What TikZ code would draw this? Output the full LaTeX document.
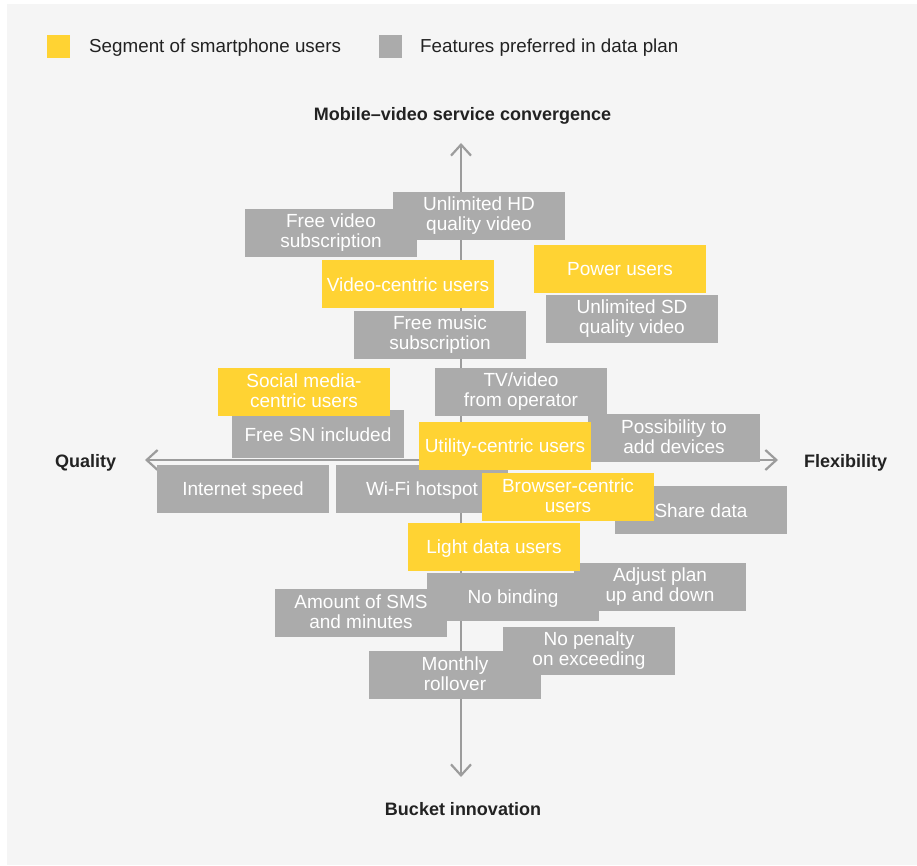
\documentclass[tikz,border=0pt]{standalone}
\usepackage{fontspec}
\setmainfont{Liberation Sans}
\usetikzlibrary{arrows.meta}
\definecolor{bgc}{HTML}{F5F5F5}
\definecolor{boxgray}{HTML}{ABABAB}
\definecolor{segyel}{HTML}{FFD333}
\definecolor{axisc}{HTML}{9C9C9C}
\definecolor{labc}{HTML}{222222}
\newcommand{\boxfont}{\fontsize{19}{20}\selectfont}
\newcommand{\legfont}{\fontsize{18.8}{20}\selectfont}
\newcommand{\bxstrut}{\rule[-3pt]{0pt}{20pt}}
\begin{document}
\begin{tikzpicture}[x=1pt,y=-1pt,
  feat/.style={fill=boxgray, minimum width=172pt, minimum height=48pt, inner sep=0pt, align=center, text=white, font=\boxfont,
    execute at begin node=\bxstrut, execute at end node=\bxstrut},
  seg/.style={feat, fill=segyel},
  two/.style={execute at begin node={\rule{0pt}{26pt}}},
  axislbl/.style={font=\fontsize{18}{20}\selectfont\bfseries, text=labc, inner sep=0pt},
  legtxt/.style={font=\legfont, text=labc, anchor=base west, inner sep=0pt},
  legsq/.style={minimum size=23pt, inner sep=0pt},
  axisline/.style={draw=axisc, line width=2.2pt, {Straight Barb[length=11pt,width=20pt]}-{Straight Barb[length=11pt,width=20pt]}}
]
\useasboundingbox (0,0) rectangle (917,866);
\fill[bgc] (7,4) rectangle (917,865);

% legend
\node[legsq, fill=segyel] (lseg) at (58.5,46.5) {};
\node[legtxt] (lsegt) at (89,53) {Segment of smartphone users};
\node[legsq, fill=boxgray] (lfeat) at (390.5,46.5) {};
\node[legtxt] (lfeatt) at (420,53) {Features preferred in data plan};

% axis labels
\node[axislbl, anchor=base] (ltop) at (462.5,120.5) {Mobile--video service convergence};
\node[axislbl, anchor=base] (lbot) at (463,815) {Bucket innovation};
\node[axislbl, anchor=base west] (lleft) at (55,467) {Quality};
\node[axislbl, anchor=base west] (lright) at (804,467) {Flexibility};

% axes
\coordinate (vtop) at (461,143);
\coordinate (vbot) at (461,777);
\coordinate (hl) at (145,460);
\coordinate (hr) at (778,460);
\draw[axisline] (vbot) -- (vtop);
\draw[axisline] (hl) -- (hr);

% features (gray)
\node[feat,two] (fvs) at (331,233) {Free video\\subscription};
\node[feat,two] (uhd) at (479,216) {Unlimited HD\\quality video};
\node[feat,two] (usd) at (632,319) {Unlimited SD\\quality video};
\node[feat,two] (fms) at (440,335) {Free music\\subscription};
\node[feat,two] (tvo) at (521,392) {TV/video\\from operator};
\node[feat] (fsn) at (318,434) {Free SN included};
\node[feat,two] (pad) at (674,438) {Possibility to\\add devices};
\node[feat] (ins) at (243,489) {Internet speed};
\node[feat] (wfh) at (422,489) {Wi-Fi hotspot};
\node[feat] (shd) at (701,510) {Share data};
\node[feat] (nob) at (513,597) {No binding};
\node[feat,two] (apd) at (660,587) {Adjust plan\\up and down};
\node[feat,two] (sms) at (361,613) {Amount of SMS\\and minutes};
\node[feat,two] (mro) at (455,675) {Monthly\\rollover};
\node[feat,two] (npe) at (589,651) {No penalty\\on exceeding};

% segments (yellow)
\node[seg] (vcu) at (408,284) {Video-centric users};
\node[seg] (pwu) at (620,269) {Power users};
\node[seg,two] (smu) at (304,392) {Social media-\\centric users};
\node[seg] (ucu) at (505,446) {Utility-centric users};
\node[seg,two] (bcu) at (568,497) {Browser-centric\\users};
\node[seg] (ldu) at (494,547) {Light data users};
\end{tikzpicture}
\end{document}
